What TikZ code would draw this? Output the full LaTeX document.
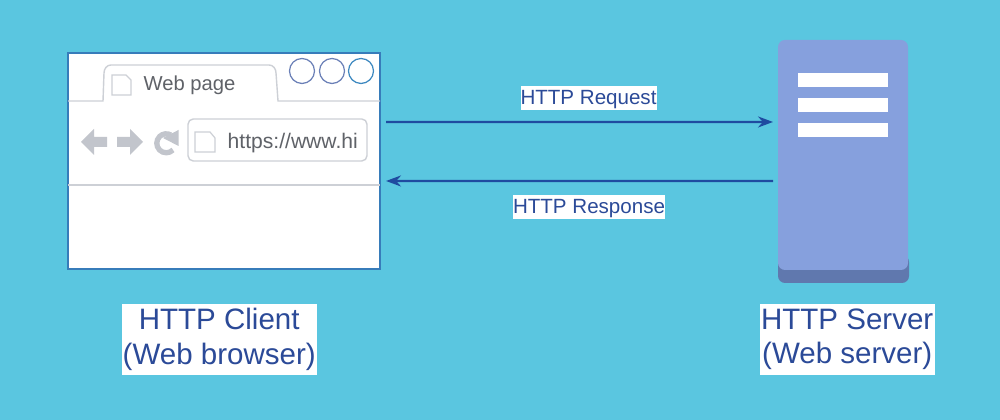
\documentclass[tikz,border=0pt]{standalone}
\usepackage{fontspec}
\setmainfont{Liberation Sans}
\usepackage{xcolor}
\usetikzlibrary{arrows.meta,positioning,calc}
\definecolor{skybg}{HTML}{5AC6E0}
\definecolor{serverblue}{HTML}{86A0DD}
\definecolor{serverdark}{HTML}{6078AE}
\definecolor{labelblue}{HTML}{2B4A98}
\definecolor{arrowblue}{HTML}{1F4BA0}
\definecolor{framegray}{HTML}{CDD0D6}
\definecolor{icongray}{HTML}{C2C5CC}
\definecolor{textgray}{HTML}{5F6268}
\tikzset{
  boxnode/.style={draw=none, inner sep=0pt, outer sep=0pt, anchor=north west},
  msglabel/.style={fill=white, text=labelblue, font=\fontsize{5.85pt}{7pt}\selectfont, inner sep=0pt, text height=0.17cm, text depth=0.044cm, minimum height=0.24cm, anchor=center},
  hostlabel/.style={fill=white, text=labelblue, align=center, font=\fontsize{8.4pt}{9.8pt}\selectfont, inner sep=0pt, minimum height=0.71cm, anchor=north west},
  msgarrow/.style={draw=arrowblue, line width=0.6pt, -{Stealth[length=1.5mm,width=1.1mm]}},
  winline/.style={draw=framegray, line width=0.4pt},
  docicon/.style={draw=framegray, fill=white, line width=0.35pt},
  winbutton/.style={draw=#1, line width=0.35pt, fill=white, circle, inner sep=0pt, outer sep=0pt, minimum size=0.25cm}
}

\begin{document}
\begin{tikzpicture}[x=1cm,y=1cm]
\useasboundingbox (0,0) rectangle (10,4.2);
\fill[skybg] (0,0) rectangle (10,4.2);

% Browser window
\node[boxnode, fill=white, draw=arrowblue!60!skybg, line width=0.4pt, minimum width=3.12cm, minimum height=2.16cm] (browser) at (0.68,3.67) {};

% Tab strip and tab
\draw[winline] (0.68,3.19) -- (1.03,3.19) -- (1.04,3.47) to[out=90,in=180] (1.11,3.55) -- (2.69,3.55) to[out=0,in=90] (2.76,3.47) -- (2.78,3.19) -- (3.80,3.19);
\draw[winline] (0.68,2.35) -- (3.80,2.35);
\node[winbutton=labelblue!70!white] (btna) at (3.02,3.49) {};
\node[winbutton=labelblue!70!white] (btnb) at (3.32,3.49) {};
\node[winbutton=arrowblue!50!skybg] (btnc) at (3.61,3.49) {};
% Tab icon and title
\draw[docicon] (1.12,3.25) -- (1.31,3.25) -- (1.31,3.40) -- (1.26,3.45) -- (1.12,3.45) -- cycle;
\node[anchor=west, inner sep=0pt, text=textgray, font=\fontsize{5.75pt}{7pt}\selectfont] (tabtitle) at (1.43,3.345) {Web page};

% Back, forward, reload
\fill[icongray] (0.81,2.78) -- (0.94,2.91) -- (0.94,2.83) -- (1.07,2.83) -- (1.07,2.73) -- (0.94,2.73) -- (0.94,2.65) -- cycle;
\fill[icongray] (1.43,2.78) -- (1.30,2.91) -- (1.30,2.83) -- (1.17,2.83) -- (1.17,2.73) -- (1.30,2.73) -- (1.30,2.65) -- cycle;
\draw[icongray, line width=1.5pt] (1.73,2.70) arc (-45:-300:0.095);
\fill[icongray] (1.785,2.90) -- (1.785,2.74) -- (1.63,2.82) -- cycle;

% Address bar
\node[boxnode, draw=framegray, line width=0.4pt, rounded corners=1.5pt, minimum width=1.79cm, minimum height=0.42cm] (addressbar) at (1.88,3.01) {};
\draw[docicon] (1.95,2.68) -- (2.15,2.68) -- (2.15,2.82) -- (2.10,2.88) -- (1.95,2.88) -- cycle;
\node[anchor=west, inner sep=0pt, text=textgray, font=\fontsize{6pt}{7pt}\selectfont] (urltext) at (2.27,2.765) {https://www.hi};

% Server tower
\fill[serverdark, rounded corners=2pt] (7.78,1.37) rectangle (9.09,1.65);
\node[boxnode, fill=serverblue, rounded corners=2pt, minimum width=1.30cm, minimum height=2.30cm] (server) at (7.78,3.80) {};
\foreach \y in {3.47,3.22,2.97}{
  \fill[white] (7.98,\y) rectangle ++(0.90,-0.14);
}

% Request and response
\coordinate (reqstart) at ($(browser.east)+(0.06,0.39)$);
\coordinate (reqend) at ($(server.west)+(-0.05,0.33)$);
\coordinate (respstart) at ($(server.west)+(-0.05,-0.26)$);
\coordinate (respend) at ($(browser.east)+(0.06,-0.20)$);
\draw[msgarrow] (reqstart) -- (reqend);
\draw[msgarrow] (respstart) -- (respend);
\node[msglabel, minimum width=1.35cm] (reqlabel) at (5.885,3.22) {HTTP Request};
\node[msglabel, minimum width=1.50cm] (resplabel) at (5.89,2.13) {HTTP Response};

% Host captions
\node[hostlabel, minimum width=1.95cm] (clientlabel) at (1.21,1.17) {HTTP Client\\(Web browser)};
\node[hostlabel, minimum width=1.75cm] (serverlabel) at (7.59,1.17) {HTTP Server\\(Web server)};
\end{tikzpicture}
\end{document}
